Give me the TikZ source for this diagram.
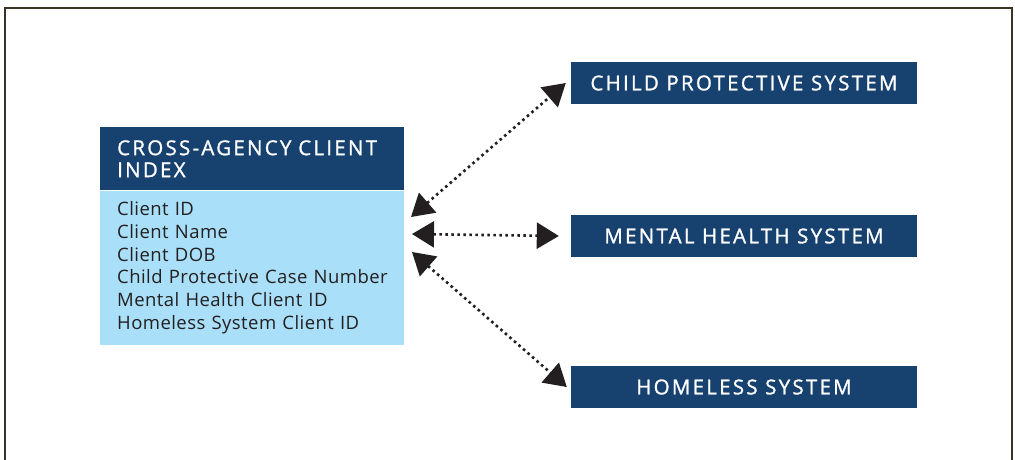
\documentclass[tikz,border=0pt]{standalone}
\usepackage{fontspec}
\setmainfont{Open Sans}[LetterSpace=2.4]
\newfontfamily\hdrfont{Open Sans}[FakeBold=1.2,LetterSpace=11]
\usetikzlibrary{arrows.meta,positioning}
\definecolor{navy}{HTML}{17416F}
\definecolor{skyfill}{HTML}{A9DFF8}
\definecolor{inkdark}{HTML}{231F20}
\definecolor{framebrown}{HTML}{3B3324}

\tikzset{
	sysbox/.style={fill=navy,text=white,minimum width=346pt,minimum height=42pt,inner sep=0pt,font=\hdrfont\fontsize{20.5}{22}\selectfont},
	link/.style={inkdark,line width=2.6pt,dash pattern=on 2.6pt off 3.4pt,{Triangle[length=22pt,width=26pt]}-{Triangle[length=22pt,width=26pt]}}
}

\begin{document}
\begin{tikzpicture}[x=1pt,y=-1pt]
	\useasboundingbox (0,0) rectangle (1015,460);
	\draw[framebrown,line width=1.5pt] (5,461) -- (5,8) -- (1012,8) -- (1012,461);

	% index table
	\node[fill=navy,text=white,anchor=north west,minimum width=304pt,minimum height=63pt,inner xsep=17pt,inner ysep=0pt,text width=270pt,align=left,font=\hdrfont\fontsize{20.5}{22}\selectfont] (index) at (100,127) {CROSS-AGENCY CLIENT\\INDEX};
	\node[fill=skyfill,text=inkdark,below=0pt of index,minimum width=304pt,minimum height=154pt,inner xsep=17pt,inner ysep=0pt,text width=270pt,align=left,font=\fontsize{18.5}{22.8}\selectfont] (fields) {Client ID\\Client Name\\Client DOB\\Child Protective Case Number\\Mental Health Client ID\\Homeless System Client ID};

	% systems
	\node[sysbox] (child) at (744,83) {CHILD PROTECTIVE SYSTEM};
	\node[sysbox] (mental) at (744,236) {MENTAL HEALTH SYSTEM};
	\node[sysbox] (homeless) at (744,387) {HOMELESS SYSTEM};

	\coordinate (tipA) at (411,217);
	\coordinate (tipB) at (412,234);
	\coordinate (tipC) at (412,252);
	\draw[link] (tipA) -- ([xshift=-5pt]child.west);
	\draw[link] (tipB) -- ([xshift=-12pt]mental.west);
	\draw[link] (tipC) -- ([xshift=-4pt]homeless.west);
\end{tikzpicture}
\end{document}
